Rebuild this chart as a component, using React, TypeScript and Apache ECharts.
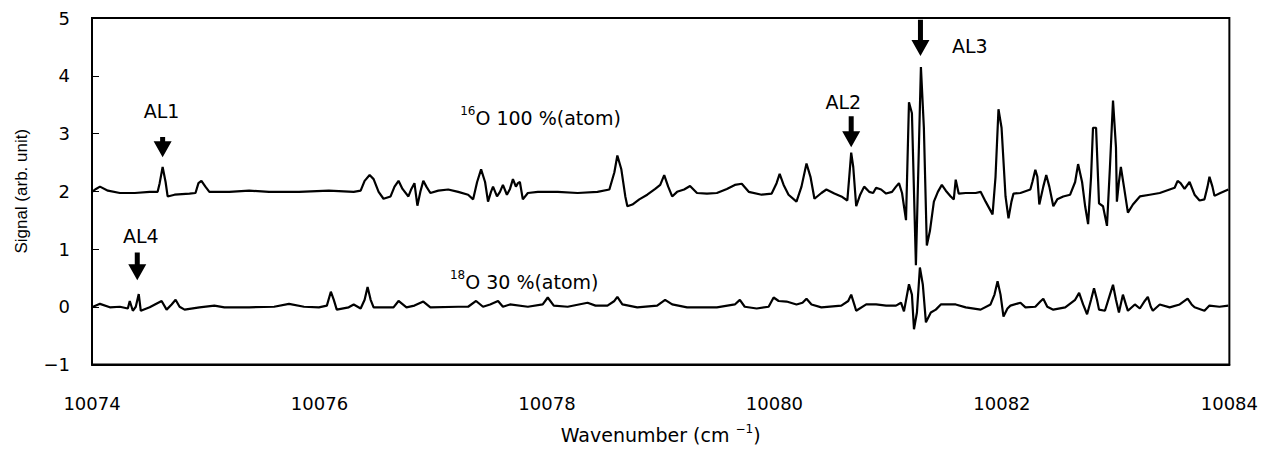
import React, { useEffect, useRef } from 'react';
import * as echarts from 'echarts';

// ---- axes ----
const xMin = 10074;
const xMax = 10084;
const xInterval = 2;
const yMin = -1;
const yMax = 5;
const yInterval = 1;

// ---- 16O 100 %(atom) trace (offset by +2) ----
const o16Trace: [number, number][] = [
  [10074.000, 1.99], [10074.035, 2.04], [10074.070, 2.08], [10074.140, 2.01], [10074.245, 1.97], [10074.376, 1.97],
  [10074.507, 1.99], [10074.577, 1.99], [10074.595, 2.14], [10074.621, 2.42], [10074.647, 2.16], [10074.665, 1.91],
  [10074.726, 1.94], [10074.857, 1.96], [10074.910, 1.97], [10074.936, 2.14], [10074.962, 2.18], [10074.997, 2.08],
  [10075.032, 1.99], [10075.207, 1.99], [10075.382, 2.01], [10075.557, 1.99], [10075.820, 1.99], [10076.082, 2.01],
  [10076.301, 1.99], [10076.362, 2.01], [10076.397, 2.18], [10076.441, 2.28], [10076.476, 2.21], [10076.520, 1.99],
  [10076.563, 1.87], [10076.625, 1.91], [10076.660, 2.08], [10076.695, 2.18], [10076.730, 2.04], [10076.782, 1.91],
  [10076.808, 2.04], [10076.835, 2.14], [10076.861, 1.75], [10076.887, 1.99], [10076.913, 2.18], [10076.940, 2.08],
  [10076.975, 1.97], [10077.045, 2.01], [10077.132, 2.03], [10077.220, 1.99], [10077.307, 1.94], [10077.351, 1.86],
  [10077.386, 2.16], [10077.421, 2.38], [10077.456, 2.16], [10077.482, 1.82], [10077.508, 1.99], [10077.526, 2.08],
  [10077.561, 1.91], [10077.587, 1.99], [10077.613, 2.11], [10077.648, 1.94], [10077.675, 2.04], [10077.701, 2.21],
  [10077.727, 2.08], [10077.745, 2.14], [10077.762, 2.16], [10077.788, 1.86], [10077.832, 1.97], [10077.920, 1.99],
  [10078.095, 1.99], [10078.270, 1.97], [10078.444, 1.99], [10078.549, 2.03], [10078.593, 2.33], [10078.619, 2.62],
  [10078.654, 2.38], [10078.689, 1.91], [10078.707, 1.74], [10078.751, 1.77], [10078.812, 1.86], [10078.882, 1.94],
  [10078.952, 2.04], [10078.996, 2.11], [10079.031, 2.28], [10079.066, 2.08], [10079.101, 1.91], [10079.144, 1.99],
  [10079.206, 2.03], [10079.258, 2.09], [10079.319, 1.97], [10079.407, 1.96], [10079.494, 1.97], [10079.582, 2.04],
  [10079.652, 2.11], [10079.713, 2.13], [10079.774, 1.99], [10079.888, 1.94], [10079.976, 1.96], [10080.019, 2.14],
  [10080.046, 2.30], [10080.081, 2.11], [10080.124, 1.94], [10080.194, 1.82], [10080.238, 2.08], [10080.282, 2.48],
  [10080.317, 2.25], [10080.352, 1.87], [10080.413, 1.97], [10080.457, 2.03], [10080.527, 1.96], [10080.588, 1.91],
  [10080.641, 1.84], [10080.658, 2.25], [10080.675, 2.67], [10080.693, 2.42], [10080.719, 1.74], [10080.754, 1.94],
  [10080.789, 2.08], [10080.833, 1.99], [10080.868, 1.97], [10080.894, 2.06], [10080.938, 2.03], [10080.982, 1.96],
  [10081.034, 1.99], [10081.069, 2.08], [10081.095, 2.14], [10081.122, 1.97], [10081.157, 1.50], [10081.183, 3.54],
  [10081.209, 3.35], [10081.244, 0.72], [10081.288, 4.15], [10081.314, 3.10], [10081.340, 1.06], [10081.367, 1.31],
  [10081.402, 1.82], [10081.437, 1.99], [10081.472, 2.11], [10081.507, 2.01], [10081.550, 1.91], [10081.577, 1.86],
  [10081.594, 2.20], [10081.620, 1.96], [10081.682, 1.97], [10081.769, 1.97], [10081.813, 1.99], [10081.857, 1.82],
  [10081.918, 1.60], [10081.944, 2.25], [10081.970, 3.42], [10081.997, 3.10], [10082.032, 1.91], [10082.058, 1.53],
  [10082.084, 1.82], [10082.102, 1.96], [10082.163, 1.97], [10082.250, 2.03], [10082.268, 2.16], [10082.294, 2.37],
  [10082.312, 2.25], [10082.329, 1.77], [10082.364, 2.08], [10082.390, 2.28], [10082.417, 2.08], [10082.452, 1.74],
  [10082.487, 1.86], [10082.539, 1.91], [10082.600, 1.94], [10082.644, 2.16], [10082.670, 2.47], [10082.705, 2.16],
  [10082.732, 1.74], [10082.758, 1.43], [10082.784, 2.25], [10082.801, 3.10], [10082.828, 3.10], [10082.854, 1.79],
  [10082.889, 1.74], [10082.924, 1.40], [10082.950, 2.42], [10082.977, 3.57], [10083.003, 2.76], [10083.011, 1.82],
  [10083.029, 2.16], [10083.046, 2.42], [10083.073, 2.08], [10083.108, 1.63], [10083.152, 1.77], [10083.213, 1.91],
  [10083.300, 1.94], [10083.388, 1.97], [10083.475, 2.03], [10083.519, 2.06], [10083.545, 2.18], [10083.571, 2.14],
  [10083.606, 2.04], [10083.650, 2.16], [10083.694, 1.94], [10083.738, 1.84], [10083.781, 1.86], [10083.808, 2.08],
  [10083.825, 2.25], [10083.851, 2.08], [10083.869, 1.92], [10083.921, 1.97], [10083.991, 2.03],
];

// ---- 18O 30 %(atom) trace ----
const o18Trace: [number, number][] = [
  [10074.000, -0.01], [10074.070, 0.05], [10074.157, -0.01], [10074.245, 0.00], [10074.315, -0.03], [10074.332, 0.10],
  [10074.359, -0.07], [10074.385, 0.00], [10074.411, 0.22], [10074.429, -0.07], [10074.507, -0.01], [10074.612, 0.10],
  [10074.656, -0.05], [10074.700, 0.04], [10074.735, 0.12], [10074.770, 0.00], [10074.814, -0.05], [10074.945, -0.01],
  [10075.076, 0.02], [10075.164, -0.01], [10075.382, -0.01], [10075.601, 0.00], [10075.732, 0.05], [10075.864, 0.00],
  [10075.995, -0.01], [10076.065, 0.02], [10076.100, 0.26], [10076.126, 0.12], [10076.152, -0.05], [10076.257, -0.01],
  [10076.301, 0.04], [10076.362, -0.03], [10076.397, 0.12], [10076.423, 0.34], [10076.450, 0.12], [10076.476, -0.01],
  [10076.651, -0.01], [10076.695, 0.10], [10076.765, -0.01], [10076.835, 0.02], [10076.913, 0.09], [10076.975, -0.01],
  [10077.220, 0.00], [10077.307, 0.00], [10077.377, 0.10], [10077.438, 0.00], [10077.500, 0.04], [10077.570, 0.10],
  [10077.613, 0.00], [10077.675, 0.04], [10077.832, 0.00], [10077.963, 0.04], [10078.007, 0.16], [10078.060, 0.02],
  [10078.182, 0.00], [10078.357, 0.07], [10078.427, 0.02], [10078.532, 0.02], [10078.593, 0.10], [10078.619, 0.17],
  [10078.663, 0.04], [10078.794, -0.01], [10078.969, 0.02], [10079.039, 0.12], [10079.101, 0.04], [10079.232, -0.01],
  [10079.494, -0.01], [10079.652, 0.04], [10079.696, 0.12], [10079.739, 0.00], [10079.844, -0.03], [10079.949, 0.00],
  [10079.993, 0.16], [10080.037, 0.10], [10080.107, 0.09], [10080.194, 0.04], [10080.247, 0.07], [10080.282, 0.14],
  [10080.326, 0.04], [10080.413, -0.01], [10080.588, 0.02], [10080.649, 0.10], [10080.675, 0.21], [10080.702, 0.04],
  [10080.719, -0.07], [10080.807, 0.04], [10080.894, 0.04], [10080.982, 0.02], [10081.069, 0.02], [10081.113, 0.07],
  [10081.139, -0.08], [10081.183, 0.39], [10081.209, 0.21], [10081.227, -0.39], [10081.253, -0.10], [10081.279, 0.68],
  [10081.305, 0.38], [10081.332, -0.27], [10081.375, -0.10], [10081.419, -0.05], [10081.463, 0.04], [10081.594, 0.04],
  [10081.682, -0.01], [10081.813, -0.05], [10081.900, 0.04], [10081.935, 0.21], [10081.962, 0.44], [10081.988, 0.21],
  [10082.014, -0.17], [10082.049, -0.03], [10082.075, 0.02], [10082.163, 0.07], [10082.207, -0.01], [10082.294, 0.00],
  [10082.338, 0.09], [10082.364, 0.14], [10082.399, 0.00], [10082.452, -0.05], [10082.557, -0.01], [10082.644, 0.12],
  [10082.679, 0.24], [10082.714, 0.04], [10082.749, -0.13], [10082.784, 0.12], [10082.810, 0.32], [10082.836, 0.12],
  [10082.854, -0.05], [10082.906, -0.07], [10082.950, 0.21], [10082.977, 0.38], [10083.003, 0.12], [10083.029, -0.10],
  [10083.064, 0.21], [10083.090, 0.04], [10083.108, -0.07], [10083.169, 0.04], [10083.213, -0.03], [10083.256, 0.10],
  [10083.283, 0.17], [10083.309, 0.00], [10083.327, -0.07], [10083.388, 0.04], [10083.475, -0.01], [10083.563, 0.04],
  [10083.633, 0.14], [10083.668, 0.04], [10083.694, -0.01], [10083.781, -0.07], [10083.825, 0.02], [10083.913, 0.00],
  [10083.991, 0.02],
];

// ---- arrow annotations ----
const arrowNames = ['AL1', 'AL2', 'AL3', 'AL4'];
const arrowX = [10074.621, 10080.675, 10081.284, 10074.398];
const arrowTipY = [2.59, 2.76, 4.34, 0.46];
const arrowTailY = [2.94, 3.30, 4.97, 0.94];
const arrowLabelX = [10074.612, 10080.605, 10081.717, 10074.429];
const arrowLabelY = [3.385, 3.54, 4.51, 1.226];

// ---- isotope labels ----
const isotopeMass = ['16', '18'];
const isotopeText = ['O 100 %(atom)', 'O 30 %(atom)'];
const isotopeX = [10077.237, 10077.147];
const isotopeY = [3.27, 0.43];

const FONT = '"DejaVu Sans", "Liberation Sans", sans-serif';

export default function App() {
  const ref = useRef<HTMLDivElement>(null);

  useEffect(() => {
    if (!ref.current) return;
    const chart = echarts.init(ref.current, undefined, { renderer: 'svg' });

    const lineSeries = (name: string, data: [number, number][]) => ({
      name,
      type: 'line',
      data,
      showSymbol: false,
      symbol: 'none',
      lineStyle: { color: '#000', width: 2.2 },
      itemStyle: { color: '#000' },
      silent: true,
      z: 3,
    });

    chart.setOption({
      animation: false,
      backgroundColor: '#fff',
      grid: {
        left: 92, right: 27, top: 18, bottom: 78,
        show: true, borderColor: '#000', borderWidth: 2, backgroundColor: 'transparent',
      },
      xAxis: {
        type: 'value',
        min: xMin, max: xMax, interval: xInterval,
        name: '{a|Wavenumber (cm }{s|−1}{a|)}',
        nameLocation: 'middle',
        nameGap: 58,
        nameTextStyle: {
          rich: {
            a: { fontSize: 19, fontFamily: FONT, color: '#000', lineHeight: 24 },
            s: { fontSize: 12, fontFamily: FONT, color: '#000', lineHeight: 14, verticalAlign: 'top' },
          },
        },
        axisLine: { show: true, onZero: false, lineStyle: { color: '#000', width: 2 } },
        axisTick: { show: false },
        splitLine: { show: false },
        axisLabel: {
          color: '#000', fontSize: 18, fontFamily: FONT, margin: 30,
          formatter: (v: number) => String(Math.round(v)),
        },
      },
      yAxis: {
        type: 'value',
        min: yMin, max: yMax, interval: yInterval,
        name: 'Signal (arb. unit)',
        nameLocation: 'middle',
        nameGap: 62,
        nameTextStyle: { fontSize: 17, fontFamily: '"Liberation Sans", Arial, sans-serif', color: '#000' },
        axisLine: { show: true, onZero: false, lineStyle: { color: '#000', width: 2 } },
        axisTick: { show: true, inside: true, length: 7, lineStyle: { color: '#000', width: 1 } },
        splitLine: { show: false },
        axisLabel: {
          color: '#000', fontSize: 18, fontFamily: FONT, margin: 22,
          formatter: (v: number) => String(v).replace('-', '−'),
        },
      },
      series: [lineSeries('16O 100 %(atom)', o16Trace), lineSeries('18O 30 %(atom)', o18Trace)],
    });

    const graphic: any[] = [];
    arrowNames.forEach((name, i) => {
      const [tx, ty] = chart.convertToPixel({ gridIndex: 0 }, [arrowX[i], arrowTipY[i]]);
      const [, tailY] = chart.convertToPixel({ gridIndex: 0 }, [arrowX[i], arrowTailY[i]]);
      const headH = 16, headW = 18, shaftW = 5;
      graphic.push({
        type: 'polygon',
        silent: true,
        z: 10,
        shape: {
          points: [
            [tx - shaftW / 2, tailY], [tx + shaftW / 2, tailY], [tx + shaftW / 2, ty - headH],
            [tx + headW / 2, ty - headH], [tx, ty], [tx - headW / 2, ty - headH], [tx - shaftW / 2, ty - headH],
          ],
        },
        style: { fill: '#000' },
      });
      const [lx, ly] = chart.convertToPixel({ gridIndex: 0 }, [arrowLabelX[i], arrowLabelY[i]]);
      graphic.push({
        type: 'text', x: lx, y: ly, z: 10, silent: true,
        style: { text: name, fontSize: 19, fontFamily: FONT, fill: '#000', align: 'center', verticalAlign: 'middle' },
      });
    });
    isotopeMass.forEach((m, i) => {
      const [px, py] = chart.convertToPixel({ gridIndex: 0 }, [isotopeX[i], isotopeY[i]]);
      graphic.push({
        type: 'text', x: px, y: py, z: 10, silent: true,
        style: {
          text: `{s|${m}}{m|${isotopeText[i]}}`,
          align: 'left', verticalAlign: 'middle',
          rich: {
            s: { fontSize: 12, fontFamily: FONT, fill: '#000', lineHeight: 12, verticalAlign: 'top' },
            m: { fontSize: 19, fontFamily: FONT, fill: '#000', lineHeight: 26 },
          },
        },
      });
    });
    chart.setOption({ graphic });

    return () => chart.dispose();
  }, []);

  return (
    <div
      ref={ref}
      style={{ position: 'fixed', left: 0, top: 0, width: '1261px', height: '449px', background: '#fff' }}
    />
  );
}
